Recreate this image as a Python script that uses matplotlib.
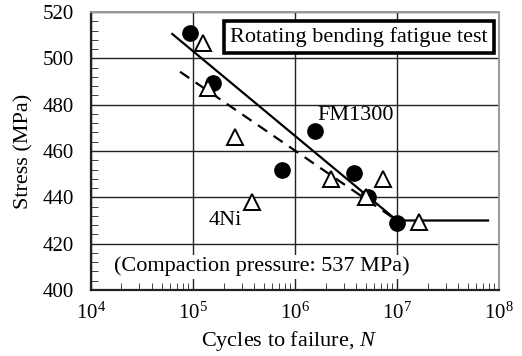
import numpy as np
import matplotlib
matplotlib.use('Agg')
import matplotlib.pyplot as plt
from matplotlib.ticker import MultipleLocator, LogLocator, NullFormatter

plt.rcParams['font.family'] = ['Liberation Serif', 'DejaVu Serif']
plt.rcParams['mathtext.fontset'] = 'custom'
plt.rcParams['mathtext.rm'] = 'Liberation Serif'
plt.rcParams['mathtext.it'] = 'Liberation Serif:italic'

# FM1300 (filled circles)
fm_cycles = [9.4e4, 1.56e5, 7.45e5, 1.59e6, 3.77e6, 5.2e6, 1.0e7]
fm_stress = [510.8, 489.2, 451.8, 468.8, 450.6, 440.3, 429.1]

# 4Ni (open triangles)
ni_cycles = [1.26e5, 1.42e5, 2.58e5, 3.81e5, 2.24e6, 5.0e6, 7.3e6, 1.63e7]
ni_stress = [506.8, 487.1, 466.2, 438.1, 447.8, 440.0, 447.8, 429.5]

# fitted S-N lines
fm_fit_n = [6.3e4, 1.0e7, 7.8e7]
fm_fit_s = [510.5, 430.0, 430.0]
ni_fit_n = [7.5e4, 1.0e7]
ni_fit_s = [494.2, 430.0]

fig = plt.figure(figsize=(5.22, 3.56), dpi=100)
ax = fig.add_axes([0.1738, 0.1854, 0.7822, 0.7809])

ax.plot(fm_fit_n, fm_fit_s, color='black', lw=1.6, zorder=3)
ax.plot(ni_fit_n, ni_fit_s, color='black', lw=1.6, ls=(0, (5, 3.5)), zorder=3)
ax.plot(fm_cycles, fm_stress, 'o', ms=11, mfc='black', mec='black', zorder=4)
ax.plot(ni_cycles, ni_stress, '^', ms=11, mfc='white', mec='black', mew=1.4, zorder=5)

ax.set_xscale('log')
ax.set_xlim(1e4, 1e8)
ax.set_ylim(400, 520)
ax.yaxis.set_major_locator(MultipleLocator(20))
ax.yaxis.set_minor_locator(MultipleLocator(4))
ax.xaxis.set_major_locator(LogLocator(base=10, numticks=10))
ax.xaxis.set_minor_locator(LogLocator(base=10, subs=np.arange(2, 10), numticks=10))
ax.xaxis.set_minor_formatter(NullFormatter())

ax.grid(True, which='major', color='#222222', lw=1.0, zorder=0)
ax.tick_params(which='both', direction='in', labelsize=15, top=False, right=False, color='#222222')
ax.tick_params(axis='y', which='major', length=0, pad=12)
ax.tick_params(axis='x', which='major', length=0, pad=9)
ax.tick_params(which='minor', length=5)

for s in ['left', 'bottom']:
    ax.spines[s].set_color('#222222')
    ax.spines[s].set_linewidth(1.6)
for s in ['top', 'right']:
    ax.spines[s].set_color('#999999')
    ax.spines[s].set_linewidth(1.4)

ax.set_xlabel('Cycles to failure, $\\it{N}$', fontsize=16, va='center')
ax.set_ylabel('Stress (MPa)', fontsize=16, va='center')
ax.xaxis.set_label_coords(0.485, -0.183)
ax.yaxis.set_label_coords(-0.163, 0.5)

ax.text(0.657, 0.910, 'Rotating bending fatigue test', transform=ax.transAxes,
        ha='center', va='center', fontsize=16, zorder=6,
        bbox=dict(boxstyle='square,pad=0.26', fc='white', ec='black', lw=2.6))
ax.text(1.67e6, 475.5, 'FM1300', ha='left', va='center', fontsize=16, zorder=6)
ax.text(2.06e5, 430.2, '4Ni', ha='center', va='center', fontsize=16, zorder=6)
ax.text(4.74e5, 410.1, '(Compaction pressure: 537 MPa)', ha='center', va='center',
        fontsize=16, zorder=6, bbox=dict(boxstyle='square,pad=0.1', fc='white', ec='none'))

fig.savefig('out.png', dpi=100)
